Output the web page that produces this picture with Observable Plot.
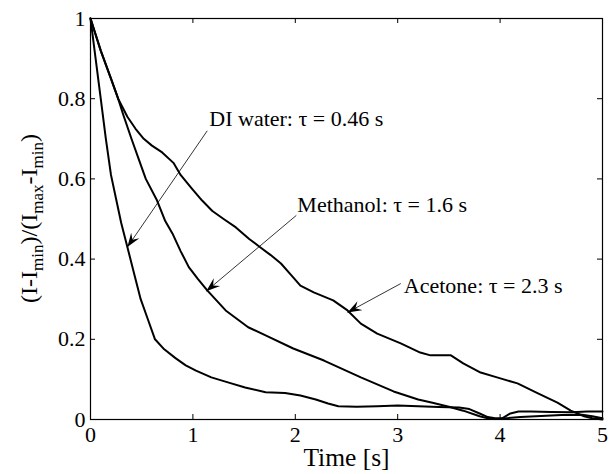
<!DOCTYPE html>
<html>
<head>
<meta charset="utf-8">
<script src="https://cdn.jsdelivr.net/npm/d3@7"></script>
<script src="https://cdn.jsdelivr.net/npm/@observablehq/plot@0.6"></script>
<style>
  html, body { margin: 0; padding: 0; background: white; }
</style>
</head>
<body>
<div id="chart"></div>
<script>
// ---- data ----
const xTicks = [0, 1, 2, 3, 4, 5];
const yTicks = [0, 0.2, 0.4, 0.6, 0.8, 1];
const xLabel = "Time [s]";

const diX = [0, 0.05, 0.1, 0.15, 0.2, 0.25, 0.3, 0.36, 0.42, 0.49, 0.56, 0.63, 0.72, 0.83, 0.93, 1.03, 1.18, 1.35, 1.51, 1.71, 1.9, 2.05, 2.2, 2.32, 2.42, 2.6, 2.8, 3.0, 3.2, 3.4, 3.6, 3.7, 3.8, 3.88, 3.95, 4.02, 4.1, 4.18, 4.3, 4.5, 4.7, 4.85, 5];
const diY = [1, 0.9, 0.8, 0.7, 0.61, 0.55, 0.49, 0.43, 0.37, 0.3, 0.25, 0.2, 0.175, 0.153, 0.135, 0.122, 0.105, 0.092, 0.08, 0.068, 0.066, 0.06, 0.05, 0.04, 0.033, 0.032, 0.033, 0.035, 0.033, 0.031, 0.03, 0.026, 0.015, 0.006, 0.003, 0.003, 0.015, 0.02, 0.02, 0.019, 0.018, 0.02, 0.02];

const meX = [0, 0.1, 0.2, 0.27, 0.32, 0.4, 0.47, 0.54, 0.65, 0.73, 0.8, 0.88, 0.96, 1.05, 1.14, 1.32, 1.54, 1.71, 1.98, 2.28, 2.64, 2.96, 3.2, 3.34, 3.5, 3.64, 3.8, 3.91, 4.0, 4.2, 4.4, 4.6, 4.8, 4.9, 5];
const meY = [1, 0.92, 0.85, 0.8, 0.76, 0.7, 0.65, 0.6, 0.546, 0.495, 0.464, 0.42, 0.38, 0.35, 0.322, 0.272, 0.23, 0.21, 0.177, 0.147, 0.105, 0.07, 0.05, 0.042, 0.032, 0.022, 0.008, 0.001, 0.002, 0.006, 0.009, 0.011, 0.012, 0.008, 0.003];

const acX = [0, 0.1, 0.2, 0.27, 0.36, 0.44, 0.52, 0.6, 0.7, 0.81, 0.88, 0.99, 1.09, 1.19, 1.3, 1.42, 1.55, 1.66, 1.76, 1.86, 1.96, 2.05, 2.18, 2.37, 2.51, 2.64, 2.8, 3.03, 3.22, 3.32, 3.52, 3.64, 3.81, 3.97, 4.17, 4.37, 4.56, 4.69, 4.82, 4.9, 5];
const acY = [1, 0.92, 0.85, 0.8, 0.755, 0.725, 0.7, 0.683, 0.666, 0.64, 0.61, 0.576, 0.546, 0.52, 0.5, 0.479, 0.45, 0.429, 0.41, 0.389, 0.36, 0.334, 0.317, 0.297, 0.272, 0.239, 0.214, 0.19, 0.167, 0.16, 0.16, 0.14, 0.117, 0.105, 0.09, 0.065, 0.042, 0.022, 0.008, 0.003, 0];

const annText = ["DI water: \u03c4 = 0.46 s", "Methanol: \u03c4 = 1.6 s", "Acetone: \u03c4 = 2.3 s"];
const annTextX = [1.16, 2.02, 3.06];
const annTextY = [0.75, 0.536, 0.334];
const annTailX = [1.14, 2.01, 3.03];
const annTailY = [0.72, 0.509, 0.339];
const annTipX = [0.36, 1.13, 2.51];
const annTipY = [0.43, 0.32, 0.267];

// ---- build tables ----
const rows = [];
[["DI water", diX, diY], ["Methanol", meX, meY], ["Acetone", acX, acY]].forEach(([name, xs, ys]) => {
  xs.forEach((x, i) => rows.push({series: name, x, y: ys[i]}));
});
const ann = annText.map((t, i) => ({
  text: t, tx: annTextX[i], ty: annTextY[i],
  x1: annTailX[i], y1: annTailY[i], x2: annTipX[i], y2: annTipY[i]
}));

const W = 616, H = 474, mT = 18, mB = 55, mL = 90, mR = 14;
const PH = H - mT - mB, PW = W - mL - mR;
const FONT = '"Liberation Serif", "Times New Roman", serif';
const FS = 22;

const chart = Plot.plot({
  width: W, height: H,
  marginTop: mT, marginBottom: mB, marginLeft: mL, marginRight: mR,
  x: {domain: [0, 5]},
  y: {domain: [0, 1]},
  style: `font-family: ${FONT}; font-size: ${FS}px; background: white; color: black;`,
  marks: [
    Plot.axisX(xTicks, {tickSize: 0, tickPadding: 7, fontSize: FS, tickFormat: d => String(d), label: null}),
    Plot.axisY(yTicks, {tickSize: 0, tickPadding: 5, fontSize: FS, tickFormat: d => String(d), label: null}),
    Plot.tickX(xTicks, {x: d => d, insetTop: PH - 5, stroke: "black", strokeWidth: 1}),
    Plot.tickX(xTicks, {x: d => d, insetBottom: PH - 5, stroke: "black", strokeWidth: 1}),
    Plot.tickY(yTicks, {y: d => d, insetRight: PW - 5, stroke: "black", strokeWidth: 1}),
    Plot.tickY(yTicks, {y: d => d, insetLeft: PW - 5, stroke: "black", strokeWidth: 1}),
    Plot.line(rows, {x: "x", y: "y", z: "series", stroke: "black", strokeWidth: 2, curve: "linear"}),
    Plot.link(ann, {x1: "x1", y1: "y1", x2: "x2", y2: "y2", stroke: "black", strokeWidth: 0.8, className: "annlink"}),
    Plot.text(ann, {x: "tx", y: "ty", text: "text", textAnchor: "start", fontSize: FS, fill: "black"}),
    Plot.text([xLabel], {frameAnchor: "bottom", dy: 46, text: d => d, fontSize: 25.5, fill: "black"}),
    Plot.frame({stroke: "black", strokeWidth: 1.2})
  ]
});

// arrowheads + y label with subscripts
const svg = d3.select(chart);
const defs = svg.append("defs");
defs.append("marker")
  .attr("id", "ahead")
  .attr("viewBox", "-14 -6 15 12")
  .attr("refX", 0).attr("refY", 0)
  .attr("markerWidth", 15).attr("markerHeight", 12)
  .attr("markerUnits", "userSpaceOnUse")
  .attr("orient", "auto")
  .append("path")
  .attr("d", "M0,0L-14,-5L-9,0L-14,5Z")
  .attr("fill", "black");
svg.selectAll(".annlink path, g.annlink path").attr("marker-end", "url(#ahead)");

const yl = svg.append("text")
  .attr("transform", `translate(37,${mT + PH / 2}) rotate(-90)`)
  .attr("text-anchor", "middle")
  .style("font-family", FONT)
  .style("font-size", "24px")
  .attr("fill", "black");
const parts = [["(I-I", false], ["min", true], [")/(I", false], ["max", true], ["-I", false], ["min", true], [")", false]];
parts.forEach(([t, sub], i) => {
  yl.append("tspan")
    .attr("dy", i === 0 ? 0 : (sub ? 6 : -6))
    .style("font-size", sub ? "17px" : "24px")
    .text(t);
});

document.getElementById("chart").appendChild(chart);
</script>
</body>
</html>
